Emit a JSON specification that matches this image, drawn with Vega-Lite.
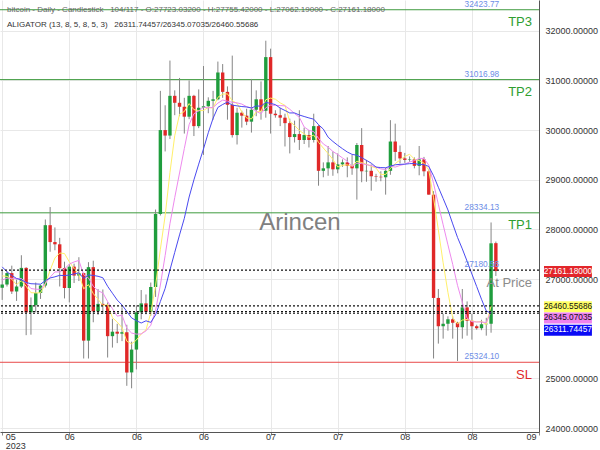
{
  "$schema": "https://vega.github.io/schema/vega-lite/v6.json",
  "width": 539,
  "height": 432,
  "autosize": {"type": "none"},
  "padding": {"left": 0, "top": 0, "right": 61, "bottom": 18},
  "background": "white",
  "config": {"view": {"stroke": null}, "font": "Liberation Sans"},
  "datasets": {
    "candles": [
      {"d":"2023-05-19","o":26826,"h":27183,"l":26580,"c":26890,"jaw":27246,"teeth":26979,"lips":27064},
      {"d":"2023-05-20","o":26890,"h":27150,"l":26850,"c":27120,"jaw":27145,"teeth":27019,"lips":27054},
      {"d":"2023-05-21","o":27120,"h":27270,"l":26700,"c":26750,"jaw":27073,"teeth":27015,"lips":26998},
      {"d":"2023-05-22","o":26750,"h":26990,"l":26560,"c":26850,"jaw":27012,"teeth":27005,"lips":26888},
      {"d":"2023-05-23","o":26850,"h":27480,"l":26820,"c":27225,"jaw":26982,"teeth":27012,"lips":26967},
      {"d":"2023-05-24","o":27225,"h":27240,"l":25870,"c":26330,"jaw":26931,"teeth":26924,"lips":26855},
      {"d":"2023-05-25","o":26330,"h":26630,"l":25880,"c":26475,"jaw":26906,"teeth":26809,"lips":26726},
      {"d":"2023-05-26","o":26475,"h":26930,"l":26330,"c":26720,"jaw":26902,"teeth":26795,"lips":26720},
      {"d":"2023-05-27","o":26720,"h":26890,"l":26600,"c":26870,"jaw":26897,"teeth":26793,"lips":26724},
      {"d":"2023-05-28","o":26870,"h":28200,"l":26830,"c":28085,"jaw":26967,"teeth":26913,"lips":26896},
      {"d":"2023-05-29","o":28085,"h":28450,"l":27550,"c":27745,"jaw":27022,"teeth":27038,"lips":27179},
      {"d":"2023-05-30","o":27745,"h":28040,"l":27580,"c":27700,"jaw":27045,"teeth":27144,"lips":27424},
      {"d":"2023-05-31","o":27700,"h":27830,"l":26850,"c":27220,"jaw":27075,"teeth":27143,"lips":27524},
      {"d":"2023-06-01","o":27220,"h":27350,"l":26610,"c":26820,"jaw":27070,"teeth":27204,"lips":27514},
      {"d":"2023-06-02","o":26820,"h":27300,"l":26530,"c":27250,"jaw":27080,"teeth":27301,"lips":27347},
      {"d":"2023-06-03","o":27250,"h":27310,"l":26920,"c":27070,"jaw":27105,"teeth":27345,"lips":27212},
      {"d":"2023-06-04","o":27070,"h":27440,"l":26960,"c":27120,"jaw":27125,"teeth":27376,"lips":27096},
      {"d":"2023-06-05","o":27120,"h":27130,"l":25400,"c":25760,"jaw":27013,"teeth":27086,"lips":26804},
      {"d":"2023-06-06","o":25760,"h":27340,"l":25400,"c":27240,"jaw":27083,"teeth":27023,"lips":26888},
      {"d":"2023-06-07","o":27240,"h":27370,"l":26130,"c":26350,"jaw":27073,"teeth":26854,"lips":26708},
      {"d":"2023-06-08","o":26350,"h":26800,"l":26280,"c":26500,"jaw":27056,"teeth":26764,"lips":26594},
      {"d":"2023-06-09","o":26500,"h":26790,"l":26300,"c":26480,"jaw":27026,"teeth":26721,"lips":26466},
      {"d":"2023-06-10","o":26480,"h":26530,"l":25420,"c":25850,"jaw":26854,"teeth":26546,"lips":26484},
      {"d":"2023-06-11","o":25850,"h":26200,"l":25620,"c":25940,"jaw":26715,"teeth":26405,"lips":26224},
      {"d":"2023-06-12","o":25940,"h":26100,"l":25710,"c":25900,"jaw":26577,"teeth":26253,"lips":26134},
      {"d":"2023-06-13","o":25900,"h":26430,"l":25750,"c":25930,"jaw":26478,"teeth":26274,"lips":26020},
      {"d":"2023-06-14","o":25930,"h":26080,"l":24850,"c":25120,"jaw":26347,"teeth":26009,"lips":25748},
      {"d":"2023-06-15","o":25120,"h":25740,"l":24800,"c":25580,"jaw":26218,"teeth":25913,"lips":25694},
      {"d":"2023-06-16","o":25580,"h":26470,"l":25180,"c":26330,"jaw":26162,"teeth":25891,"lips":25772},
      {"d":"2023-06-17","o":26330,"h":26780,"l":26190,"c":26510,"jaw":26115,"teeth":25895,"lips":25894},
      {"d":"2023-06-18","o":26510,"h":26690,"l":26290,"c":26340,"jaw":26159,"teeth":25956,"lips":25976},
      {"d":"2023-06-19","o":26340,"h":26930,"l":26260,"c":26840,"jaw":26128,"teeth":26069,"lips":26320},
      {"d":"2023-06-20","o":26840,"h":28400,"l":26640,"c":28310,"jaw":26279,"teeth":26370,"lips":26866},
      {"d":"2023-06-21","o":28310,"h":30790,"l":28280,"c":30000,"jaw":26548,"teeth":26879,"lips":27600},
      {"d":"2023-06-22","o":30000,"h":30500,"l":29570,"c":29890,"jaw":26811,"teeth":27475,"lips":28276},
      {"d":"2023-06-23","o":29890,"h":31400,"l":29820,"c":30690,"jaw":27183,"teeth":28114,"lips":29146},
      {"d":"2023-06-24","o":30690,"h":30800,"l":30300,"c":30550,"jaw":27538,"teeth":28641,"lips":29888},
      {"d":"2023-06-25","o":30550,"h":31050,"l":30280,"c":30470,"jaw":27889,"teeth":29136,"lips":30320},
      {"d":"2023-06-26","o":30470,"h":30650,"l":29930,"c":30270,"jaw":28223,"teeth":29628,"lips":30374},
      {"d":"2023-06-27","o":30270,"h":31000,"l":30220,"c":30690,"jaw":28652,"teeth":30109,"lips":30534},
      {"d":"2023-06-28","o":30690,"h":30710,"l":29880,"c":30080,"jaw":28998,"teeth":30330,"lips":30412},
      {"d":"2023-06-29","o":30080,"h":30820,"l":30040,"c":30450,"jaw":29315,"teeth":30386,"lips":30392},
      {"d":"2023-06-30","o":30450,"h":31290,"l":29500,"c":30480,"jaw":29620,"teeth":30460,"lips":30394},
      {"d":"2023-07-01","o":30480,"h":30660,"l":30340,"c":30590,"jaw":29947,"teeth":30448,"lips":30458},
      {"d":"2023-07-02","o":30590,"h":30790,"l":30210,"c":30620,"jaw":30238,"teeth":30456,"lips":30444},
      {"d":"2023-07-03","o":30620,"h":31380,"l":30600,"c":31160,"jaw":30457,"teeth":30543,"lips":30660},
      {"d":"2023-07-04","o":31160,"h":31330,"l":30650,"c":30770,"jaw":30516,"teeth":30605,"lips":30724},
      {"d":"2023-07-05","o":30770,"h":30880,"l":30210,"c":30510,"jaw":30564,"teeth":30583,"lips":30730},
      {"d":"2023-07-06","o":30510,"h":31500,"l":29850,"c":29900,"jaw":30503,"teeth":30560,"lips":30592},
      {"d":"2023-07-07","o":29900,"h":30450,"l":29710,"c":30350,"jaw":30488,"teeth":30548,"lips":30538},
      {"d":"2023-07-08","o":30350,"h":30390,"l":30050,"c":30290,"jaw":30474,"teeth":30524,"lips":30364},
      {"d":"2023-07-09","o":30290,"h":30430,"l":30100,"c":30170,"jaw":30466,"teeth":30471,"lips":30244},
      {"d":"2023-07-10","o":30170,"h":31030,"l":29950,"c":30410,"jaw":30445,"teeth":30445,"lips":30224},
      {"d":"2023-07-11","o":30410,"h":30800,"l":30280,"c":30620,"jaw":30486,"teeth":30378,"lips":30368},
      {"d":"2023-07-12","o":30620,"h":30980,"l":30210,"c":30390,"jaw":30482,"teeth":30330,"lips":30376},
      {"d":"2023-07-13","o":30390,"h":31800,"l":30250,"c":31470,"jaw":30558,"teeth":30450,"lips":30612},
      {"d":"2023-07-14","o":31470,"h":31640,"l":29930,"c":30330,"jaw":30538,"teeth":30504,"lips":30644},
      {"d":"2023-07-15","o":30330,"h":30400,"l":30250,"c":30300,"jaw":30513,"teeth":30498,"lips":30622},
      {"d":"2023-07-16","o":30300,"h":30450,"l":30080,"c":30250,"jaw":30443,"teeth":30493,"lips":30548},
      {"d":"2023-07-17","o":30250,"h":30330,"l":29670,"c":30140,"jaw":30395,"teeth":30489,"lips":30498},
      {"d":"2023-07-18","o":30140,"h":30230,"l":29530,"c":29860,"jaw":30345,"teeth":30420,"lips":30176},
      {"d":"2023-07-19","o":29860,"h":30190,"l":29750,"c":29920,"jaw":30346,"teeth":30333,"lips":30094},
      {"d":"2023-07-20","o":29920,"h":30400,"l":29600,"c":29800,"jaw":30304,"teeth":30259,"lips":29994},
      {"d":"2023-07-21","o":29800,"h":30050,"l":29720,"c":29900,"jaw":30274,"teeth":30063,"lips":29924},
      {"d":"2023-07-22","o":29900,"h":30000,"l":29650,"c":29800,"jaw":30245,"teeth":29996,"lips":29856},
      {"d":"2023-07-23","o":29800,"h":30330,"l":29750,"c":30080,"jaw":30220,"teeth":29969,"lips":29900},
      {"d":"2023-07-24","o":30080,"h":30100,"l":28880,"c":29180,"jaw":30109,"teeth":29835,"lips":29752},
      {"d":"2023-07-25","o":29180,"h":29350,"l":29050,"c":29230,"jaw":30020,"teeth":29721,"lips":29638},
      {"d":"2023-07-26","o":29230,"h":29680,"l":29080,"c":29350,"jaw":29857,"teeth":29658,"lips":29528},
      {"d":"2023-07-27","o":29350,"h":29570,"l":29080,"c":29210,"jaw":29771,"teeth":29569,"lips":29410},
      {"d":"2023-07-28","o":29210,"h":29530,"l":29130,"c":29310,"jaw":29695,"teeth":29508,"lips":29256},
      {"d":"2023-07-29","o":29310,"h":29410,"l":29260,"c":29350,"jaw":29625,"teeth":29439,"lips":29290},
      {"d":"2023-07-30","o":29350,"h":29450,"l":29050,"c":29280,"jaw":29559,"teeth":29374,"lips":29300},
      {"d":"2023-07-31","o":29280,"h":29500,"l":29100,"c":29230,"jaw":29511,"teeth":29268,"lips":29276},
      {"d":"2023-08-01","o":29230,"h":29740,"l":28600,"c":29700,"jaw":29494,"teeth":29333,"lips":29374},
      {"d":"2023-08-02","o":29700,"h":30040,"l":28950,"c":29170,"jaw":29445,"teeth":29325,"lips":29346},
      {"d":"2023-08-03","o":29170,"h":29400,"l":28960,"c":29180,"jaw":29390,"teeth":29304,"lips":29312},
      {"d":"2023-08-04","o":29180,"h":29310,"l":28780,"c":29070,"jaw":29334,"teeth":29286,"lips":29270},
      {"d":"2023-08-05","o":29070,"h":29120,"l":28960,"c":29060,"jaw":29255,"teeth":29255,"lips":29236},
      {"d":"2023-08-06","o":29060,"h":29170,"l":28970,"c":29050,"jaw":29245,"teeth":29218,"lips":29106},
      {"d":"2023-08-07","o":29050,"h":29240,"l":28700,"c":29180,"jaw":29242,"teeth":29205,"lips":29108},
      {"d":"2023-08-08","o":29180,"h":30200,"l":29100,"c":29770,"jaw":29274,"teeth":29273,"lips":29226},
      {"d":"2023-08-09","o":29770,"h":30130,"l":29380,"c":29560,"jaw":29301,"teeth":29255,"lips":29324},
      {"d":"2023-08-10","o":29560,"h":29690,"l":29330,"c":29430,"jaw":29310,"teeth":29288,"lips":29398},
      {"d":"2023-08-11","o":29430,"h":29540,"l":29340,"c":29400,"jaw":29314,"teeth":29315,"lips":29468},
      {"d":"2023-08-12","o":29400,"h":29470,"l":29360,"c":29410,"jaw":29324,"teeth":29358,"lips":29514},
      {"d":"2023-08-13","o":29410,"h":29450,"l":29230,"c":29280,"jaw":29328,"teeth":29385,"lips":29416},
      {"d":"2023-08-14","o":29280,"h":29680,"l":29090,"c":29410,"jaw":29305,"teeth":29430,"lips":29386},
      {"d":"2023-08-15","o":29410,"h":29460,"l":29070,"c":29170,"jaw":29305,"teeth":29429,"lips":29334},
      {"d":"2023-08-16","o":29170,"h":29220,"l":28700,"c":28700,"jaw":29268,"teeth":29295,"lips":29194},
      {"d":"2023-08-17","o":28700,"h":28770,"l":25400,"c":26620,"jaw":29080,"teeth":28928,"lips":28636},
      {"d":"2023-08-18","o":26620,"h":26800,"l":25700,"c":26050,"jaw":28849,"teeth":28505,"lips":27990},
      {"d":"2023-08-19","o":26050,"h":26300,"l":25800,"c":26100,"jaw":28622,"teeth":28093,"lips":27328},
      {"d":"2023-08-20","o":26100,"h":26250,"l":25960,"c":26190,"jaw":28392,"teeth":27690,"lips":26732},
      {"d":"2023-08-21","o":26190,"h":26250,"l":25800,"c":26120,"jaw":28111,"teeth":27295,"lips":26216},
      {"d":"2023-08-22","o":26120,"h":26140,"l":25350,"c":26030,"jaw":27839,"teeth":26873,"lips":26098},
      {"d":"2023-08-23","o":26030,"h":26800,"l":25800,"c":26430,"jaw":27608,"teeth":26530,"lips":26174},
      {"d":"2023-08-24","o":26430,"h":26550,"l":25860,"c":26160,"jaw":27359,"teeth":26213,"lips":26186},
      {"d":"2023-08-25","o":26160,"h":26300,"l":25780,"c":26050,"jaw":27101,"teeth":26141,"lips":26158},
      {"d":"2023-08-26","o":26050,"h":26080,"l":25980,"c":26010,"jaw":26849,"teeth":26136,"lips":26136},
      {"d":"2023-08-27","o":26010,"h":26180,"l":25970,"c":26090,"jaw":26594,"teeth":26135,"lips":26148},
      {"d":"2023-08-28","o":26090,"h":26220,"l":25860,"c":26100,"jaw":26358,"teeth":26124,"lips":26082},
      {"d":"2023-08-29","o":26100,"h":28140,"l":25920,"c":27720,"jaw":26311.74457,"teeth":26345.07035,"lips":26460.55686},
      {"d":"2023-08-30","o":27723.032,"h":27755.42,"l":27062.19,"c":27161.18}
    ],
    "levels": [
      {"name":"TP3","v":32423.77},
      {"name":"TP2","v":31016.98},
      {"name":"TP1","v":28334.13},
      {"name":"At Price","v":27180.56},
      {"name":"SL","v":25324.10}
    ],
    "guides": [
      {"v":27180.56},
      {"v":26460.55686},
      {"v":26345.07035},
      {"v":26311.74457}
    ],
    "tags": [
      {"t":"price","v":27161.18,"label":"27161.18000"},
      {"t":"lips","v":26460.55686,"label":"26460.55686"},
      {"t":"teeth","v":26345.07035,"label":"26345.07035"},
      {"t":"jaw","v":26311.74457,"label":"26311.74457"}
    ],
    "header": [
      {"row":1,"text":"bitcoin - Daily - Candlestick\u00a0\u00a0\u00a0104/117 - O:27723.03200 - H:27755.42000 - L:27062.19000 - C:27161.18000"},
      {"row":2,"text":"ALIGATOR (13, 8, 5, 8, 5, 3)\u00a0\u00a0\u00a026311.74457/26345.07035/26460.55686"}
    ]
  },
  "layer": [
    {
      "data": {"name": "levels"},
      "transform": [{"filter": "datum.name !== 'At Price'"}],
      "mark": {"type": "rule", "strokeWidth": 1},
      "encoding": {
        "y": {
          "field": "v", "type": "quantitative",
          "scale": {"domain": [23920, 32620], "nice": false, "zero": false, "padding": 0},
          "axis": {
            "orient": "right", "title": null, "format": ".5f",
            "values": [24000,24500,25000,25500,26000,26500,27000,27500,28000,28500,29000,29500,30000,30500,31000,31500,32000,32500],
            "labelExpr": "datum.value == 26000 || datum.value == 26500 ? '' : datum.label",
            "labelFontSize": 9, "labelColor": "#333333", "ticks": false, "labelPadding": 6,
            "domainColor": "#555555", "gridColor": "#e8e8e8", "grid": true
          }
        },
        "color": {"condition": {"test": "datum.name === 'SL'", "value": "#e84a4a"}, "value": "#3f9b3f"}
      }
    },
    {
      "data": {"name": "candles"},
      "mark": {"type": "rule", "color": "#858585", "strokeWidth": 1},
      "encoding": {
        "x": {
          "field": "d", "type": "temporal",
          "scale": {"type": "utc", "padding": 0, "domain": [
            {"year": 2023, "month": 5, "date": 18, "hours": 13, "utc": true},
            {"year": 2023, "month": 9, "date": 8, "utc": true}
          ]},
          "axis": {
            "title": null, "format": "%m", "labelFlush": false,
            "values": [
              {"year": 2023, "month": 5, "date": 19, "utc": true},
              {"year": 2023, "month": 6, "date": 2, "utc": true},
              {"year": 2023, "month": 6, "date": 16, "utc": true},
              {"year": 2023, "month": 6, "date": 30, "utc": true},
              {"year": 2023, "month": 7, "date": 14, "utc": true},
              {"year": 2023, "month": 7, "date": 28, "utc": true},
              {"year": 2023, "month": 8, "date": 11, "utc": true},
              {"year": 2023, "month": 8, "date": 25, "utc": true},
              {"year": 2023, "month": 9, "date": 8, "utc": true}
            ],
            "labelExpr": "utcmonth(datum.value) == 4 ? [datum.label, '2023'] : datum.label",
            "labelAlign": {
              "condition": [
                {"test": "utcmonth(datum.value) == 4", "value": "left"},
                {"test": "utcmonth(datum.value) == 8", "value": "right"}
              ],
              "value": "center"
            },
            "labelOffset": {
              "condition": [
                {"test": "utcmonth(datum.value) == 4", "value": 3},
                {"test": "utcmonth(datum.value) == 8", "value": -3}
              ],
              "value": 0
            },
            "labelFontSize": 9, "labelColor": "#333333", "labelLineHeight": 9, "labelPadding": -3,
            "tickSize": 3, "tickColor": "#888888", "domainColor": "#555555",
            "grid": true, "gridColor": "#e8e8e8"
          }
        },
        "y": {"field": "l", "type": "quantitative"},
        "y2": {"field": "h"}
      }
    },
    {
      "data": {"name": "candles"},
      "mark": {"type": "bar", "size": 3.4},
      "encoding": {
        "x": {"field": "d", "type": "temporal"},
        "y": {"field": "o", "type": "quantitative"},
        "y2": {"field": "c"},
        "color": {"condition": {"test": "datum.c >= datum.o", "value": "#1f9d3d"}, "value": "#e02828"}
      }
    },
    {
      "data": {"name": "candles"},
      "mark": {"type": "line", "color": "#fff06a", "strokeWidth": 1},
      "encoding": {"x": {"field": "d", "type": "temporal"}, "y": {"field": "lips", "type": "quantitative"}}
    },
    {
      "data": {"name": "candles"},
      "mark": {"type": "line", "color": "#ee8aee", "strokeWidth": 1},
      "encoding": {"x": {"field": "d", "type": "temporal"}, "y": {"field": "teeth", "type": "quantitative"}}
    },
    {
      "data": {"name": "candles"},
      "mark": {"type": "line", "color": "#4a4af0", "strokeWidth": 1},
      "encoding": {"x": {"field": "d", "type": "temporal"}, "y": {"field": "jaw", "type": "quantitative"}}
    },
    {
      "data": {"name": "guides"},
      "mark": {"type": "rule", "color": "#111111", "strokeWidth": 1.2, "strokeDash": [2, 2]},
      "encoding": {"y": {"field": "v", "type": "quantitative"}}
    },
    {
      "data": {"name": "levels"},
      "mark": {"type": "text", "fontSize": 8.3, "color": "#6d8de6", "align": "center", "baseline": "bottom", "dy": -1},
      "encoding": {
        "x": {"datum": {"year": 2023, "month": 8, "date": 27, "hours": 2, "utc": true}, "type": "temporal"},
        "y": {"field": "v", "type": "quantitative"},
        "text": {"field": "v", "type": "quantitative", "format": ".2f"}
      }
    },
    {
      "data": {"name": "levels"},
      "mark": {"type": "text", "fontSize": 13, "align": "right", "baseline": "top", "dy": 6.5},
      "encoding": {
        "x": {"datum": {"year": 2023, "month": 9, "date": 6, "hours": 13, "utc": true}, "type": "temporal"},
        "y": {"field": "v", "type": "quantitative"},
        "text": {"field": "name"},
        "color": {"condition": [
          {"test": "datum.name === 'SL'", "value": "#e02a2a"},
          {"test": "datum.name === 'At Price'", "value": "#8c8c8c"}
        ], "value": "#2f9e2f"}
      }
    },
    {
      "data": {"values": [{"text": "Arincen"}]},
      "mark": {"type": "text", "fontSize": 24, "color": "#808080", "align": "center", "baseline": "middle"},
      "encoding": {
        "x": {"datum": {"year": 2023, "month": 7, "date": 20, "hours": 3, "utc": true}, "type": "temporal"},
        "y": {"datum": 28130, "type": "quantitative"},
        "text": {"field": "text"}
      }
    },
    {
      "data": {"name": "header"},
      "transform": [{"filter": "datum.row == 1"}],
      "mark": {"type": "text", "fontSize": 8, "color": "#666666", "align": "left", "baseline": "middle"},
      "encoding": {
        "x": {"datum": {"year": 2023, "month": 5, "date": 20, "utc": true}, "type": "temporal"},
        "y": {"datum": 32420, "type": "quantitative"},
        "text": {"field": "text"}
      }
    },
    {
      "data": {"name": "header"},
      "transform": [{"filter": "datum.row == 2"}],
      "mark": {"type": "text", "fontSize": 8, "color": "#333333", "align": "left", "baseline": "middle"},
      "encoding": {
        "x": {"datum": {"year": 2023, "month": 5, "date": 20, "utc": true}, "type": "temporal"},
        "y": {"datum": 32118, "type": "quantitative"},
        "text": {"field": "text"}
      }
    },
    {
      "data": {"name": "tags"},
      "transform": [{"filter": "datum.t == 'price'"}],
      "mark": {"type": "bar", "orient": "horizontal", "size": 11, "color": "#e3262b", "yOffset": 0.5},
      "encoding": {
        "x": {"datum": {"year": 2023, "month": 9, "date": 9, "hours": 1, "utc": true}, "type": "temporal"},
        "x2": {"datum": {"year": 2023, "month": 9, "date": 19, "hours": 1, "utc": true}},
        "y": {"field": "v", "type": "quantitative"}
      }
    },
    {
      "data": {"name": "tags"},
      "transform": [{"filter": "datum.t == 'lips'"}],
      "mark": {"type": "bar", "orient": "horizontal", "size": 11, "color": "#ffff66", "yOffset": 1},
      "encoding": {
        "x": {"datum": {"year": 2023, "month": 9, "date": 9, "hours": 1, "utc": true}, "type": "temporal"},
        "x2": {"datum": {"year": 2023, "month": 9, "date": 19, "hours": 1, "utc": true}},
        "y": {"field": "v", "type": "quantitative"}
      }
    },
    {
      "data": {"name": "tags"},
      "transform": [{"filter": "datum.t == 'teeth'"}],
      "mark": {"type": "bar", "orient": "horizontal", "size": 11, "color": "#ee82ee", "yOffset": 6.5},
      "encoding": {
        "x": {"datum": {"year": 2023, "month": 9, "date": 9, "hours": 1, "utc": true}, "type": "temporal"},
        "x2": {"datum": {"year": 2023, "month": 9, "date": 19, "hours": 1, "utc": true}},
        "y": {"field": "v", "type": "quantitative"}
      }
    },
    {
      "data": {"name": "tags"},
      "transform": [{"filter": "datum.t == 'jaw'"}],
      "mark": {"type": "bar", "orient": "horizontal", "size": 11, "color": "#0a0af5", "yOffset": 17},
      "encoding": {
        "x": {"datum": {"year": 2023, "month": 9, "date": 9, "hours": 1, "utc": true}, "type": "temporal"},
        "x2": {"datum": {"year": 2023, "month": 9, "date": 19, "hours": 1, "utc": true}},
        "y": {"field": "v", "type": "quantitative"}
      }
    },
    {
      "data": {"name": "tags"},
      "transform": [{"filter": "datum.t == 'price'"}],
      "mark": {"type": "text", "fontSize": 8.3, "color": "white", "align": "center", "baseline": "middle", "dy": 0.5},
      "encoding": {
        "x": {"datum": {"year": 2023, "month": 9, "date": 14, "hours": 1, "utc": true}, "type": "temporal"},
        "y": {"field": "v", "type": "quantitative"},
        "text": {"field": "label"}
      }
    },
    {
      "data": {"name": "tags"},
      "transform": [{"filter": "datum.t == 'lips'"}],
      "mark": {"type": "text", "fontSize": 8.3, "color": "#111111", "align": "center", "baseline": "middle", "dy": 1},
      "encoding": {
        "x": {"datum": {"year": 2023, "month": 9, "date": 14, "hours": 1, "utc": true}, "type": "temporal"},
        "y": {"field": "v", "type": "quantitative"},
        "text": {"field": "label"}
      }
    },
    {
      "data": {"name": "tags"},
      "transform": [{"filter": "datum.t == 'teeth'"}],
      "mark": {"type": "text", "fontSize": 8.3, "color": "#111111", "align": "center", "baseline": "middle", "dy": 6.5},
      "encoding": {
        "x": {"datum": {"year": 2023, "month": 9, "date": 14, "hours": 1, "utc": true}, "type": "temporal"},
        "y": {"field": "v", "type": "quantitative"},
        "text": {"field": "label"}
      }
    },
    {
      "data": {"name": "tags"},
      "transform": [{"filter": "datum.t == 'jaw'"}],
      "mark": {"type": "text", "fontSize": 8.3, "color": "white", "align": "center", "baseline": "middle", "dy": 17},
      "encoding": {
        "x": {"datum": {"year": 2023, "month": 9, "date": 14, "hours": 1, "utc": true}, "type": "temporal"},
        "y": {"field": "v", "type": "quantitative"},
        "text": {"field": "label"}
      }
    }
  ]
}
